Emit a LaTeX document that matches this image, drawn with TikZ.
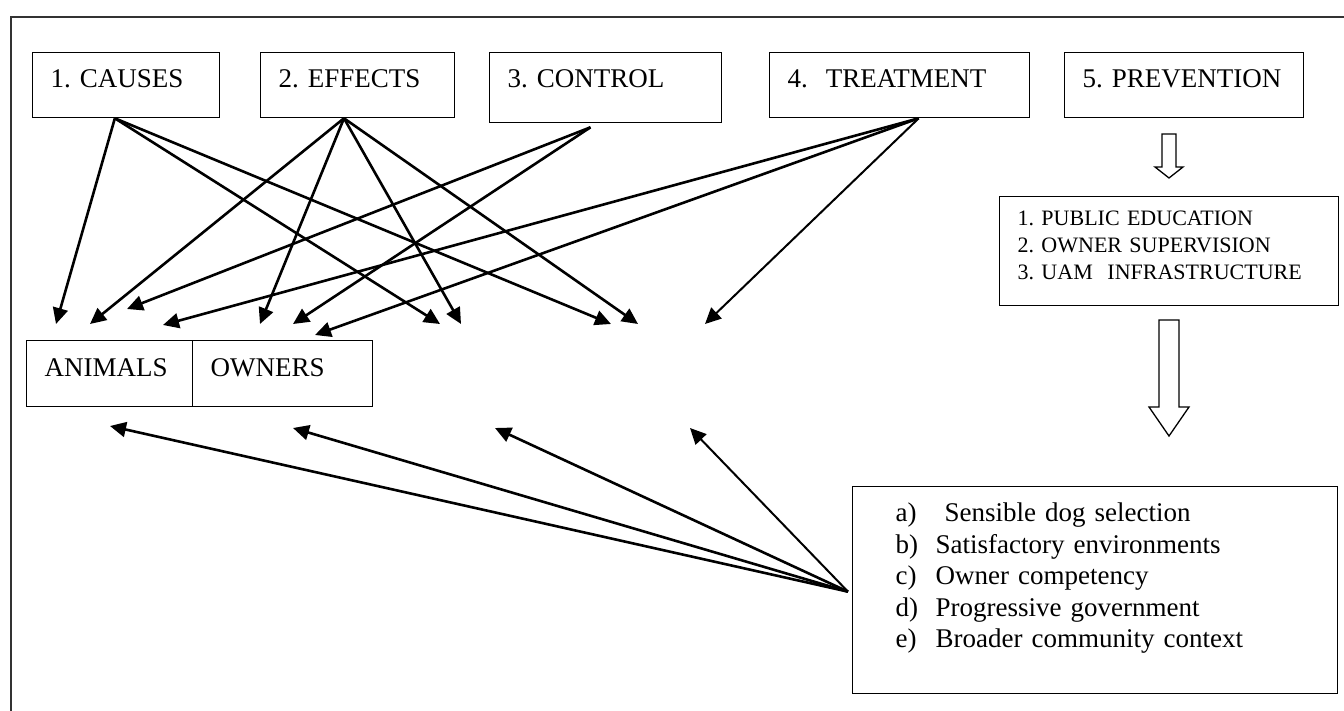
\documentclass[tikz,border=0pt]{standalone}
\usepackage{fontspec}
\setmainfont{Liberation Serif}
\usetikzlibrary{arrows.meta, positioning, calc}

\newcommand{\lstitem}[1]{\makebox[20pt][l]{#1}}

\begin{document}
\frenchspacing
\begin{tikzpicture}[x=0.5pt, y=-0.5pt,
		topic/.style={draw, line width=0.65pt, anchor=north west, inner xsep=9pt, inner ysep=0pt,
			align=left, font=\fontsize{13.5}{15.75}\selectfont, text height=17.5pt, text depth=15pt},
		link/.style={-{Triangle[length=8pt, width=7.5pt]}, line width=1.3pt}]
	\useasboundingbox (0,0) rectangle (1344,711);

	% Outer frame, cut by the page on the right and at the bottom
	\draw[line width=1.1pt, black!80] (1344,17) -- (11,17) -- (11,711);

	% Top row of boxes
	\node[topic, text width=75.5pt] (causes) at (32,52) {1. CAUSES};
	\node[topic, text width=79pt] (effects) at (260,52) {2. EFFECTS};
	\node[topic, text width=98pt, text depth=17.5pt] (control) at (489,52) {3. CONTROL};
	\node[topic, text width=112pt] (treatment) at (769,52) {4.~~TREATMENT};
	\node[topic, text width=101.5pt] (prevention) at (1064,52) {5. PREVENTION};

	% Animals / owners box
	\node[topic, text width=65pt, text height=18pt] (animals) at (26,340) {ANIMALS};
	\node[topic, text width=72pt, text height=18pt, right=-0.65pt of animals] (owners) {OWNERS};

	% Prevention measures
	\node[topic, text width=151.5pt, font=\fontsize{11}{13.5}\selectfont,
		text height=14.5pt, text depth=40pt] (measures) at (999,196)
		{1. PUBLIC EDUCATION\\2. OWNER SUPERVISION\\3. UAM\ \ INFRASTRUCTURE};

	% Factors box
	\node[topic, inner xsep=21.5pt, text width=199.5pt, text depth=86pt] (factors) at (852,486)
		{\lstitem{a)}\hspace{4.5pt}Sensible dog selection\\
		\lstitem{b)}Satisfactory environments\\
		\lstitem{c)}Owner competency\\
		\lstitem{d)}Progressive government\\
		\lstitem{e)}Broader community context};

	% Hollow arrows
	\draw[line width=0.65pt] (1162,134) -- (1176,134) -- (1176,167) -- (1183,167) -- (1169,178)
		-- (1155,167) -- (1162,167) -- cycle;
	\draw[line width=0.65pt] (1159,320) -- (1179,320) -- (1179,407) -- (1189,407) -- (1169,436)
		-- (1149,407) -- (1159,407) -- cycle;

	% Where the arrows leave the boxes
	\coordinate (causesOut) at ($(causes.south west)!0.44!(causes.south east)$);
	\coordinate (effectsOut) at ($(effects.south west)!0.43!(effects.south east)$);
	\coordinate (controlOut) at ([yshift=-2pt]$(control.south west)!0.435!(control.south east)$);
	\coordinate (treatmentOut) at ($(treatment.south west)!0.573!(treatment.south east)$);
	\coordinate (factorsOut) at ([xshift=-2pt, yshift=-0.75pt]factors.west);

	% Free ends of the arrows
	\coordinate (a1) at (56,324);
	\coordinate (a2) at (90,324);
	\coordinate (a3) at (127,309);
	\coordinate (a4) at (163,325);
	\coordinate (o1) at (260,324);
	\coordinate (o2) at (293,324);
	\coordinate (o3) at (315,335);
	\coordinate (m1) at (440,324);
	\coordinate (m2) at (461,324);
	\coordinate (m3) at (611,324);
	\coordinate (m4) at (638,324);
	\coordinate (m5) at (705,324);
	\coordinate (b1) at (110,426);
	\coordinate (b2) at (293,428);
	\coordinate (b3) at (495,428);
	\coordinate (b4) at (690,428);

	% Arrows from the top boxes
	\draw[link] (causesOut) -- (a1);
	\draw[link] (causesOut) -- (m1);
	\draw[link] (causesOut) -- (m3);

	\draw[link] (effectsOut) -- (a2);
	\draw[link] (effectsOut) -- (o1);
	\draw[link] (effectsOut) -- (m2);
	\draw[link] (effectsOut) -- (m4);

	\draw[link] (controlOut) -- (a3);
	\draw[link] (controlOut) -- (o2);

	\draw[link] (treatmentOut) -- (a4);
	\draw[link] (treatmentOut) -- (o3);
	\draw[link, line width=1pt] (treatmentOut) -- (m5);

	% Arrows from the factors box
	\draw[link] (factorsOut) -- (b1);
	\draw[link] (factorsOut) -- (b2);
	\draw[link] (factorsOut) -- (b3);
	\draw[link, line width=1pt] (factorsOut) -- (b4);

\end{tikzpicture}
\end{document}
